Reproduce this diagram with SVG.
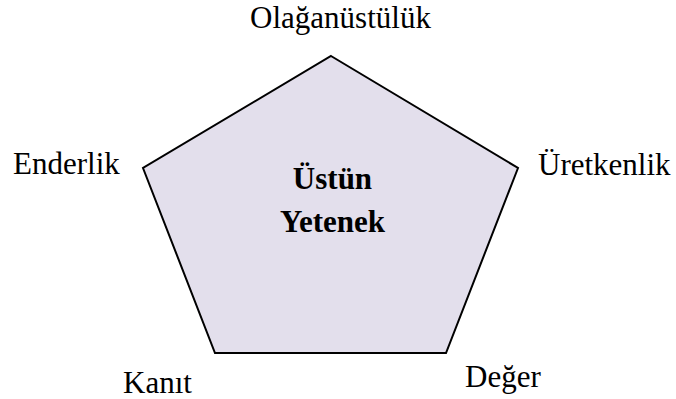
<svg xmlns="http://www.w3.org/2000/svg" width="676" height="399" viewBox="0 0 676 399">
<style>
text{font-family:'Liberation Serif','Times New Roman','DejaVu Serif',serif;font-size:31px;fill:#000}
.ctr{font-weight:bold;text-anchor:middle}
</style>
<rect width="676" height="399" fill="#fff"/>
<g id="pentagon">
<polygon points="331,56 518,168 446,353 215,353 143,168" fill="#e3dfec" stroke="#000" stroke-width="2" stroke-linejoin="miter"/>
<text class="ctr" x="332.5" y="189" font-family="Liberation Serif">Üstün</text>
<text class="ctr" x="332.5" y="232" font-family="Liberation Serif">Yetenek</text>
</g>
<g id="label-top"><text x="340.5" y="28" text-anchor="middle" font-family="Liberation Serif">Olağanüstülük</text></g>
<g id="label-left"><text x="13" y="174" font-family="Liberation Serif">Enderlik</text></g>
<g id="label-right"><text x="538" y="175" font-family="Liberation Serif">Üretkenlik</text></g>
<g id="label-bl"><text x="123" y="393" font-family="Liberation Serif">Kanıt</text></g>
<g id="label-br"><text x="465" y="387" font-family="Liberation Serif">Değer</text></g>
<g id="connectors"></g>
</svg>
